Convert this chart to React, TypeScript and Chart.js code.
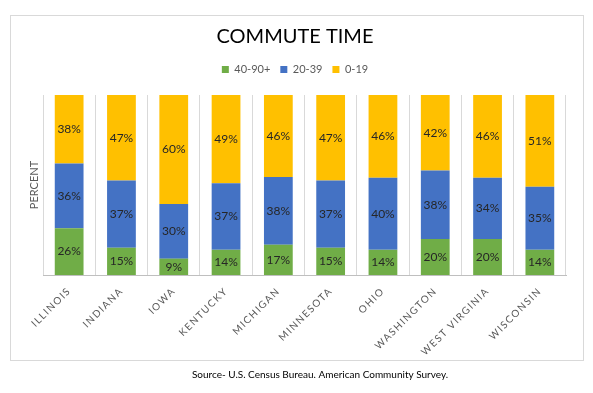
import React, { useEffect, useRef } from "react";
import { Chart, registerables } from "chart.js";

Chart.register(...registerables);

const states = ["ILLINOIS", "INDIANA", "IOWA", "KENTUCKY", "MICHIGAN", "MINNESOTA", "OHIO", "WASHINGTON", "WEST VIRGINIA", "WISCONSIN"];
const long = [26, 15, 9, 14, 17, 15, 14, 20, 20, 14];
const mid = [36, 37, 30, 37, 38, 37, 40, 38, 34, 35];
const short = [38, 47, 60, 49, 46, 47, 46, 42, 46, 51];
const seriesNames = ["40-90+", "20-39", "0-19"];
const seriesColors = ["#70ad47", "#4472c4", "#ffc000"];
const titleText = "COMMUTE TIME";
const yTitle = "PERCENT";
const sourceText = "Source- U.S. Census Bureau. American Community Survey.";

const FONT = "Lato, 'Open Sans', sans-serif";

export default function App() {
  const ref = useRef<HTMLCanvasElement>(null);
  useEffect(() => {
    const raw = [long, mid, short];
    const totals = states.map((_, i) => long[i] + mid[i] + short[i]);
    const frameAndLabels = {
      id: "frameAndLabels",
      beforeDraw(chart: any) {
        const ctx = chart.ctx;
        const sx = chart.scales.x;
        if (sx && !sx._lsPatched) {
          const orig = sx.drawLabels.bind(sx);
          sx.drawLabels = (area: any) => {
            ctx.save();
            ctx.letterSpacing = "1.4px";
            orig(area);
            ctx.restore();
          };
          sx._lsPatched = true;
        }
        ctx.save();
        ctx.fillStyle = "#ffffff";
        ctx.fillRect(0, 0, chart.width, chart.height);
        ctx.strokeStyle = "#d9d9d9";
        ctx.lineWidth = 1;
        ctx.strokeRect(10.5, 15.5, 573, 345);
        ctx.fillStyle = "#000000";
        ctx.font = `10px ${FONT}`;
        ctx.textAlign = "center";
        ctx.textBaseline = "middle";
        ctx.fillText(sourceText, 320, 375);
        ctx.restore();
      },
      afterDatasetsDraw(chart: any) {
        const ctx = chart.ctx;
        ctx.save();
        ctx.font = `12px ${FONT}`;
        ctx.fillStyle = "#262626";
        ctx.textAlign = "center";
        ctx.textBaseline = "middle";
        chart.data.datasets.forEach((ds: any, di: number) => {
          const meta = chart.getDatasetMeta(di);
          meta.data.forEach((bar: any, i: number) => {
            const y = (bar.y + bar.base) / 2;
            ctx.fillText(`${raw[di][i]}%`, bar.x, y);
          });
        });
        ctx.restore();
      },
    };
    const chart = new Chart(ref.current!, {
      type: "bar",
      data: {
        labels: states,
        datasets: raw.map((arr, di) => ({
          label: seriesNames[di],
          data: arr.map((v, i) => (v / totals[i]) * 100),
          backgroundColor: seriesColors[di],
          categoryPercentage: 1,
          barPercentage: 0.55,
        })),
      },
      options: {
        responsive: false,
        animation: false,
        layout: { padding: { top: 5, left: 24, right: 27, bottom: 34 } },
        plugins: {
          title: {
            display: true,
            text: titleText,
            color: "#000000",
            font: { family: FONT, size: 20, weight: "normal" },
            padding: { top: 20, bottom: 5 },
          },
          legend: {
            position: "top",
            labels: {
              boxWidth: 7,
              boxHeight: 7,
              color: "#595959",
              font: { family: FONT, size: 11 },
              padding: 10,
            },
          },
          tooltip: { enabled: false },
        },
        scales: {
          x: {
            stacked: true,
            grid: { display: true, offset: true, color: "#d9d9d9", drawTicks: false },
            border: { display: true, color: "#bfbfbf" },
            ticks: {
              color: "#595959",
              font: { family: FONT, size: 10 },
              minRotation: 45,
              maxRotation: 45,
              autoSkip: false,
              padding: 10,
            },
            afterFit(scale: any) {
              scale.height = 84;
            },
          },
          xTop: {
            type: "category",
            position: "top",
            grid: { display: false },
            border: { display: false },
            ticks: { display: false },
            afterFit(scale: any) {
              scale.height = 10;
            },
          },
          y: {
            stacked: true,
            min: 0,
            max: 100,
            grid: { display: false },
            border: { display: false },
            ticks: { display: false },
            title: {
              display: true,
              text: yTitle,
              color: "#595959",
              font: { family: FONT, size: 11 },
            },
            afterFit(scale: any) {
              scale.width = 19;
            },
          },
        },
      },
      plugins: [frameAndLabels],
    });
    return () => chart.destroy();
  }, []);
  return (
    <div style={{ position: "fixed", left: 0, top: 0, width: 593, height: 393, background: "#fff" }}>
      <canvas ref={ref} width={593} height={393} style={{ display: "block" }} />
    </div>
  );
}
